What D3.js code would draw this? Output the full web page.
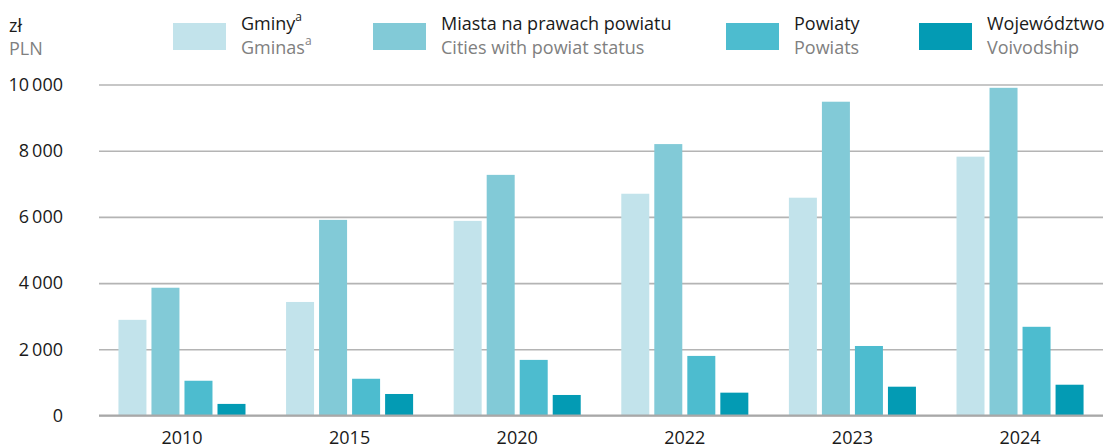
<!DOCTYPE html>
<html>
<head>
<meta charset="utf-8">
<script src="https://cdn.jsdelivr.net/npm/d3@7"></script>
<style>
  html, body { margin: 0; padding: 0; background: #fff; }
  svg text { font-family: "Open Sans", "Noto Sans", sans-serif; }
</style>
</head>
<body>
<svg id="chart" width="1109" height="448"></svg>
<script>
// Budget revenue per type of local government unit, PLN
const years = ["2010", "2015", "2020", "2022", "2023", "2024"];
const gminy    = [2890, 3430, 5880, 6700, 6580, 7820];
const miasta   = [3860, 5910, 7270, 8200, 9480, 9900];
const powiaty  = [1050, 1110, 1680, 1800, 2100, 2680];
const wojew    = [350, 650, 620, 690, 870, 930];

const seriesKeys = ["gminy", "miasta", "powiaty", "wojew"];
const seriesPl = ["Gminy", "Miasta na prawach powiatu", "Powiaty", "Województwo"];
const seriesEn = ["Gminas", "Cities with powiat status", "Powiats", "Voivodship"];
const seriesSup = ["a", "", "", ""];
const yTicks = [0, 2000, 4000, 6000, 8000, 10000];

const colors = ["#c2e3eb", "#82cad7", "#4dbccf", "#039bb4"];
const valuesByKey = { gminy, miasta, powiaty, wojew };

const svg = d3.select("#chart");

const plotLeft = 99, plotRight = 1103, plotTop = 84.5, plotBottom = 415.5;

const x = d3.scaleBand()
  .domain(years)
  .range([plotLeft, plotRight])
  .paddingInner(0.242)
  .paddingOuter(0.116);

const xInner = d3.scaleBand()
  .domain(seriesKeys)
  .range([0, x.bandwidth()])
  .paddingInner(0.152)
  .paddingOuter(0);

const y = d3.scaleLinear().domain([0, 10000]).range([plotBottom, plotTop]);

const fmt = d3.formatLocale({ decimal: ",", thousands: "\u2009", grouping: [3], currency: ["", " zł"] }).format(",d");

// horizontal gridlines with value labels
const yAxis = d3.axisLeft(y)
  .tickValues(yTicks)
  .tickSize(-(plotRight - plotLeft))
  .tickPadding(36)
  .tickFormat(fmt);

const gy = svg.append("g")
  .attr("transform", `translate(${plotLeft},0)`)
  .call(yAxis);
gy.select(".domain").remove();
gy.selectAll(".tick line")
  .attr("stroke", "#b4b4b4")
  .attr("stroke-width", 1.6);
gy.selectAll(".tick text")
  .attr("fill", "#1a1a1a")
  .style("font-size", "18px");

// bars
const groups = svg.append("g").selectAll("g")
  .data(years)
  .join("g")
  .attr("transform", d => `translate(${x(d)},0)`);

groups.selectAll("rect")
  .data((yr, i) => seriesKeys.map((k, j) => ({ key: k, value: valuesByKey[k][i], color: colors[j] })))
  .join("rect")
  .attr("x", d => xInner(d.key))
  .attr("width", xInner.bandwidth())
  .attr("y", d => y(d.value))
  .attr("height", d => y(0) - y(d.value))
  .attr("fill", d => d.color);

// baseline
svg.append("line")
  .attr("x1", plotLeft).attr("x2", plotRight)
  .attr("y1", y(0)).attr("y2", y(0))
  .attr("stroke", "#a8a8a8")
  .attr("stroke-width", 2);

// category axis
const xAxis = d3.axisBottom(x).tickSize(0).tickPadding(0);
const gx = svg.append("g")
  .attr("transform", `translate(0,${plotBottom})`)
  .call(xAxis);
gx.select(".domain").remove();
gx.selectAll(".tick text")
  .attr("dy", null)
  .attr("y", 28.5)
  .attr("fill", "#1a1a1a")
  .style("font-size", "18px");

// unit header
svg.append("text").attr("x", 9).attr("y", 31.5)
  .attr("fill", "#1a1a1a").style("font-size", "18px").text("zł");
svg.append("text").attr("x", 9).attr("y", 55)
  .attr("fill", "#808080").style("font-size", "18px").text("PLN");

// legend
const legendX = [173, 373, 726, 919];
const legend = svg.append("g").selectAll("g")
  .data(seriesKeys)
  .join("g")
  .attr("transform", (d, i) => `translate(${legendX[i]},0)`);

legend.append("rect")
  .attr("x", 0).attr("y", 23)
  .attr("width", 53).attr("height", 27)
  .attr("fill", (d, i) => colors[i]);

const l1 = legend.append("text")
  .attr("x", 68).attr("y", 29.5)
  .attr("fill", "#1a1a1a")
  .style("font-size", "18px")
  .text((d, i) => seriesPl[i]);
l1.filter((d, i) => seriesSup[i])
  .append("tspan")
  .attr("dy", -9).style("font-size", "12px")
  .text((d) => seriesSup[seriesKeys.indexOf(d)]);

const l2 = legend.append("text")
  .attr("x", 68).attr("y", 54)
  .attr("fill", "#808080")
  .style("font-size", "18px")
  .text((d, i) => seriesEn[i]);
l2.filter((d, i) => seriesSup[i])
  .append("tspan")
  .attr("dy", -9).style("font-size", "12px")
  .text((d) => seriesSup[seriesKeys.indexOf(d)]);
</script>
</body>
</html>
